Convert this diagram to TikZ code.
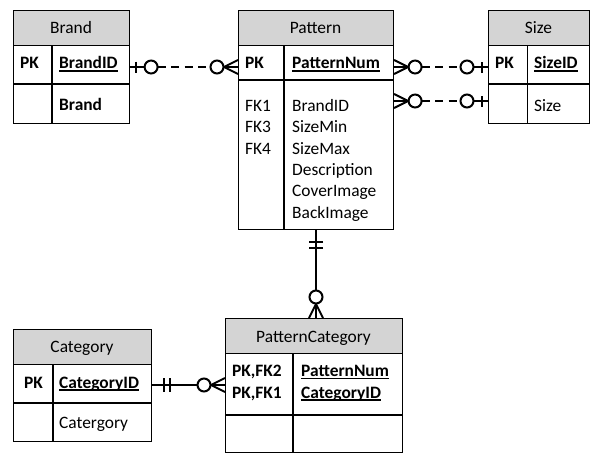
\documentclass[tikz,border=0pt]{standalone}
\usepackage{fontspec}
\setmainfont{Carlito}
\usetikzlibrary{calc}
\definecolor{hdrgray}{RGB}{212,212,212}
\tikzset{
  every node/.style={font=\fontsize{17.4pt}{21.4pt}\selectfont, text=black},
  ent/.style={draw=black, line width=1.1pt},
  hdr/.style={ent, fill=hdrgray},
  htxt/.style={inner sep=0pt, anchor=base},
  ftxt/.style={inner sep=0pt, anchor=base west},
  ul/.style={line width=1.4pt},
  conn/.style={line width=2pt},
  dashconn/.style={conn, dash pattern=on 8pt off 5.5pt},
}
\newcommand\mkZeroOne[2]{%
  \begin{scope}[shift={(#1)}, rotate=#2]
    \draw[conn] (0,0) -- (14.5,0);
    \draw[conn] (6,-5.5) -- (6,5.5);
    \draw[conn, fill=white] (21,0) circle[radius=6.5pt];
  \end{scope}}
\newcommand\mkZeroMany[2]{%
  \begin{scope}[shift={(#1)}, rotate=#2]
    \draw[conn] (0,0) -- (14.5,0);
    \draw[conn] (0,-7) -- (14,0) -- (0,7);
    \draw[conn, fill=white] (21,0) circle[radius=6.5pt];
  \end{scope}}
\newcommand\mkOneOne[2]{%
  \begin{scope}[shift={(#1)}, rotate=#2]
    \draw[conn] (12,-7) -- (12,7);
    \draw[conn] (18,-7) -- (18,7);
  \end{scope}}
\begin{document}
\begin{tikzpicture}[x=1pt, y=-1pt]
\useasboundingbox (0,0) rectangle (603,469);
\fill[white] (0,0) rectangle (603,469);

% ---------- Brand ----------
\node[hdr, anchor=north west, minimum width=116pt, minimum height=35pt, inner sep=0pt] (brandH) at (13,10) {};
\node[ent, anchor=north west, minimum width=116pt, minimum height=78pt, inner sep=0pt] (brand) at (13,45) {};
\draw[ent] (13,84) -- (129,84);
\draw[ent] (52,45) -- (52,123);
\node[htxt] (brandT) at (71,33) {Brand};
\node[ftxt, font=\fontsize{17.4pt}{21.4pt}\selectfont\bfseries] (brandPK) at (20,68.6) {PK};
\node[ftxt, font=\fontsize{17.4pt}{21.4pt}\selectfont\bfseries] (brandID) at (59,68.6) {BrandID};
\draw[ul] ([yshift=-2.3pt]brandID.base west) -- ([yshift=-2.3pt]brandID.base east);
\node[ftxt, font=\fontsize{17.4pt}{21.4pt}\selectfont\bfseries] (brandF) at (59,110.6) {Brand};

% ---------- Pattern ----------
\node[hdr, anchor=north west, minimum width=155pt, minimum height=35pt, inner sep=0pt] (patH) at (238,10) {};
\node[ent, anchor=north west, minimum width=155pt, minimum height=184pt, inner sep=0pt] (pat) at (238,45) {};
\draw[ent] (238,80) -- (393,80);
\draw[ent] (284,45) -- (284,229);
\node[htxt] (patT) at (315.5,33) {Pattern};
\node[ftxt, font=\fontsize{17.4pt}{21.4pt}\selectfont\bfseries] (patPK) at (245,68.6) {PK};
\node[ftxt, font=\fontsize{17.4pt}{21.4pt}\selectfont\bfseries] (patNum) at (292,68.6) {PatternNum};
\draw[ul] ([yshift=-2.3pt]patNum.base west) -- ([yshift=-2.3pt]patNum.base east);
\node[ftxt] (pfk1) at (245,111.3) {FK1};
\node[ftxt] (pfk3) at (245,132.7) {FK3};
\node[ftxt] (pfk4) at (245,154.1) {FK4};
\node[ftxt] (pf1) at (292,111.3) {BrandID};
\node[ftxt] (pf2) at (292,132.7) {SizeMin};
\node[ftxt] (pf3) at (292,154.1) {SizeMax};
\node[ftxt] (pf4) at (292,175.5) {Description};
\node[ftxt] (pf5) at (292,196.9) {CoverImage};
\node[ftxt] (pf6) at (292,218.3) {BackImage};

% ---------- Size ----------
\node[hdr, anchor=north west, minimum width=101pt, minimum height=35pt, inner sep=0pt] (sizeH) at (488,10) {};
\node[ent, anchor=north west, minimum width=101pt, minimum height=78pt, inner sep=0pt] (size) at (488,45) {};
\draw[ent] (488,84) -- (589,84);
\draw[ent] (527.5,45) -- (527.5,123);
\node[htxt] (sizeT) at (538.5,33) {Size};
\node[ftxt, font=\fontsize{17.4pt}{21.4pt}\selectfont\bfseries] (sizePK) at (495,68.6) {PK};
\node[ftxt, font=\fontsize{17.4pt}{21.4pt}\selectfont\bfseries] (sizeID) at (534,68.6) {SizeID};
\draw[ul] ([yshift=-2.3pt]sizeID.base west) -- ([yshift=-2.3pt]sizeID.base east);
\node[ftxt] (sizeF) at (534,111.3) {Size};

% ---------- Category ----------
\node[hdr, anchor=north west, minimum width=138pt, minimum height=35pt, inner sep=0pt] (catH) at (13,329) {};
\node[ent, anchor=north west, minimum width=138pt, minimum height=77pt, inner sep=0pt] (cat) at (13,364) {};
\draw[ent] (13,403) -- (151,403);
\draw[ent] (53,364) -- (53,441);
\node[htxt] (catT) at (82,352.5) {Category};
\node[ftxt, font=\fontsize{17.4pt}{21.4pt}\selectfont\bfseries] (catPK) at (24,388) {PK};
\node[ftxt, font=\fontsize{17.4pt}{21.4pt}\selectfont\bfseries] (catID) at (59,388) {CategoryID};
\draw[ul] ([yshift=-2pt]catID.base west) -- ([yshift=-2pt]catID.base east);
\node[ftxt] (catF) at (59,428.6) {Catergory};

% ---------- PatternCategory ----------
\node[hdr, anchor=north west, minimum width=177pt, minimum height=35pt, inner sep=0pt] (pcH) at (225,318) {};
\node[ent, anchor=north west, minimum width=177pt, minimum height=99pt, inner sep=0pt] (pc) at (225,353) {};
\draw[ent] (225,415) -- (402,415);
\draw[ent] (293,353) -- (293,452);
\node[htxt] (pcT) at (313.5,342) {PatternCategory};
\node[ftxt, font=\fontsize{17.4pt}{21.4pt}\selectfont\bfseries] (pcK1) at (232,376.5) {PK,FK2};
\node[ftxt, font=\fontsize{17.4pt}{21.4pt}\selectfont\bfseries] (pcK2) at (232,398) {PK,FK1};
\node[ftxt, font=\fontsize{17.4pt}{21.4pt}\selectfont\bfseries] (pcF1) at (301,376.5) {PatternNum};
\node[ftxt, font=\fontsize{17.4pt}{21.4pt}\selectfont\bfseries] (pcF2) at (301,398) {CategoryID};
\draw[ul] ([yshift=-2pt]pcF1.base west) -- ([yshift=-2pt]pcF1.base east);
\draw[ul] ([yshift=-2pt]pcF2.base west) -- ([yshift=-2pt]pcF2.base east);

% ---------- connector end points ----------
\coordinate (bpA) at (brand.east |- 0,67);
\coordinate (bpB) at (pat.west |- 0,67);
\coordinate (ps1A) at (pat.east |- 0,67);
\coordinate (ps1B) at (size.west |- 0,67);
\coordinate (ps2A) at (pat.east |- 0,101);
\coordinate (ps2B) at (size.west |- 0,101);
\coordinate (ppA) at (pat.south -| 316,0);
\coordinate (ppB) at (pcH.north -| 316,0);
\coordinate (cpA) at (cat.east |- 0,385);
\coordinate (cpB) at (pc.west |- 0,385);

% Brand -- Pattern
\draw[dashconn] ($(bpA)!27.5pt!(bpB)$) -- ($(bpB)!27.5pt!(bpA)$);
\mkZeroOne{bpA}{0}
\mkZeroMany{bpB}{180}
% Pattern -- Size (1)
\draw[dashconn] ($(ps1A)!27.5pt!(ps1B)$) -- ($(ps1B)!27.5pt!(ps1A)$);
\mkZeroMany{ps1A}{0}
\mkZeroOne{ps1B}{180}
% Pattern -- Size (2)
\draw[dashconn] ($(ps2A)!27.5pt!(ps2B)$) -- ($(ps2B)!27.5pt!(ps2A)$);
\mkZeroMany{ps2A}{0}
\mkZeroOne{ps2B}{180}
% Pattern -- PatternCategory
\draw[conn] (ppA) -- (ppB);
\mkOneOne{ppA}{-90}
\mkZeroMany{ppB}{90}
% Category -- PatternCategory
\draw[conn] (cpA) -- (cpB);
\mkOneOne{cpA}{0}
\mkZeroMany{cpB}{180}
\end{tikzpicture}
\end{document}
